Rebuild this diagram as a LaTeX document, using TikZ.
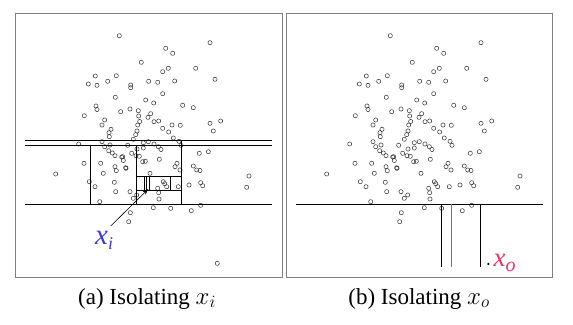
\documentclass[tikz,border=0pt]{standalone}
\usepackage{fontspec}
\setmainfont{Liberation Serif}
\usetikzlibrary{arrows.meta}
\definecolor{xiblue}{HTML}{3B3BD6}
\definecolor{xored}{HTML}{E8336B}
\newcommand\ptcloud{%
  \foreach \px/\py in {119.3/35.7,210/42.7,165.7/48.3,172.7/53.3,141.3/62.3,195.7/68.3,168.3/68.3,162.7/71.7,
    116.3/75.7,95.3/76,215/79.3,88.3/84,97/85.3,107.7/81.3,130.7/85,130.7/87.7,148.7/81.3,157.7/82.3,174.7/81,
    115.3/97.3,145.7/100,153.7/103,182.7/105.3,193.3/107.7,162.7/93.7,96/106,97/109.5,84.3/115.7,120.7/111.7,
    130/109,138.3/110.7,138.7/116,148/117.3,150.7/113.7,154/121.7,158.7/121,162.7/128.3,104.7/120,102/125,
    111/129.3,109/132.7,137.7/125,139.7/121.5,137/131,135.7/134.6,133.3/139.3,172/125,180.3/125.3,168.7/132,
    210/123.3,220.7/121,213.3/131,173.3/138,179/141.3,181/145.3,78.7/144,102/141.7,104.7/146.7,110/145,
    108.7/150.7,112.3/153,115/155.7,127.7/145.3,143.3/142.7,143.3/148,154/144,158.3/146.7,161/149.5,137/149,
    136/155.7,139.3/156.3,131.7/153.3,122.7/156.7,125.7/167.7,115/166.7,116.3/170.7,100.7/163.3,84/163.3,
    103.3/173.3,114.3/182.3,115.7/191.7,95/186.7,89.3/181.7,99.7/201.7,145.3/161.3,159.3/159.3,177/163.3,
    175/166.7,180/170,193.3/166,196.7/170,200/170.5,199.3/153.3,208.3/151.7,189/185,200.7/182.7,202.7/185.7,
    163.3/181.7,164.7/183.7,166.7/186.7,157.7/188.3,158.7/192.7,159/199,178.3/186.7,150/173.3,130/191.7,
    136.7/195,133.3/198.3,153.3/207.7,170.7/208.3,191.3/210.7,200.7/205.3,130.3/212.7,128.7/221.7,55.7/174,
    249/176,246.7/187.3,109.3/136.7,121.7/157,142.7/161.7,148.3/141.7,123.3/160.5,126/168.3}
    {\draw[pt] (\px,\py) circle[radius=2.1pt];}}
\begin{document}
\begin{tikzpicture}[x=1pt,y=-1pt,
  pt/.style={draw=black!80,line width=0.5pt},
  frame/.style={draw=black!50,line width=0.8pt},
  cut/.style={draw=black,line width=0.6pt},
  captext/.style={font=\fontsize{23}{26}\selectfont,anchor=base,inner sep=0pt}]
\useasboundingbox[fill=white] (0,0) rectangle (573,324);
% frames
\draw[frame] (15,13) rectangle (282,277);
\draw[frame] (286,13) rectangle (552,277);
% ---------- panel (a)
\ptcloud
\draw[pt] (217.3,263.3) circle[radius=2.1pt];
\draw[cut] (25,140) -- (272,140);
\draw[cut] (25,145) -- (272,145);
\draw[cut] (25,204) -- (272,204);
\draw[cut] (90,145) -- (90,204);
\draw[cut] (136.7,145) -- (136.7,204);
\draw[cut] (181.7,140) -- (181.7,204);
\draw[cut] (136.7,176.7) -- (181.7,176.7);
\draw[cut] (136.7,190.7) -- (181.7,190.7);
\draw[cut] (170,176.7) -- (170,190.7);
\draw[cut] (144,176.7) -- (144,190.7);
\draw[cut] (146.5,176.7) -- (146.5,190.7);
\draw[cut] (149.5,176.7) -- (149.5,190.7);
\node[inner sep=0pt,anchor=base west,text=xiblue] (xi) at (95,244.5)
  {\fontsize{29}{30}\selectfont\itshape x\raisebox{-4.5pt}{\fontsize{18}{20}\selectfont i}};
\coordinate (xitip) at (148.3,189);
\draw[line width=0.6pt,-{Stealth[length=6pt,width=4pt]}] (110.7,226) -- (xitip);
% ---------- panel (b)
\begin{scope}[xshift=271pt]
\ptcloud
\end{scope}
\draw[cut] (296,204) -- (543,204);
\draw[cut] (441.5,204) -- (441.5,267.3);
\draw[draw=black!55,line width=1.6pt] (451.5,204) -- (451.5,267.3);
\draw[cut] (480.2,204) -- (480.2,267.3);
\fill[black] (488.3,264) circle[radius=1.2pt];
\node[inner sep=0pt,anchor=base west,text=xored] (xo) at (493.5,266)
  {\fontsize{27}{28}\selectfont\itshape x\raisebox{-5pt}{\fontsize{20}{22}\selectfont o}};
% captions
\node[captext] (capa) at (147,304) {(a) Isolating $x_i$};
\node[captext] (capb) at (419,304) {(b) Isolating $x_o$};
\end{tikzpicture}
\end{document}
